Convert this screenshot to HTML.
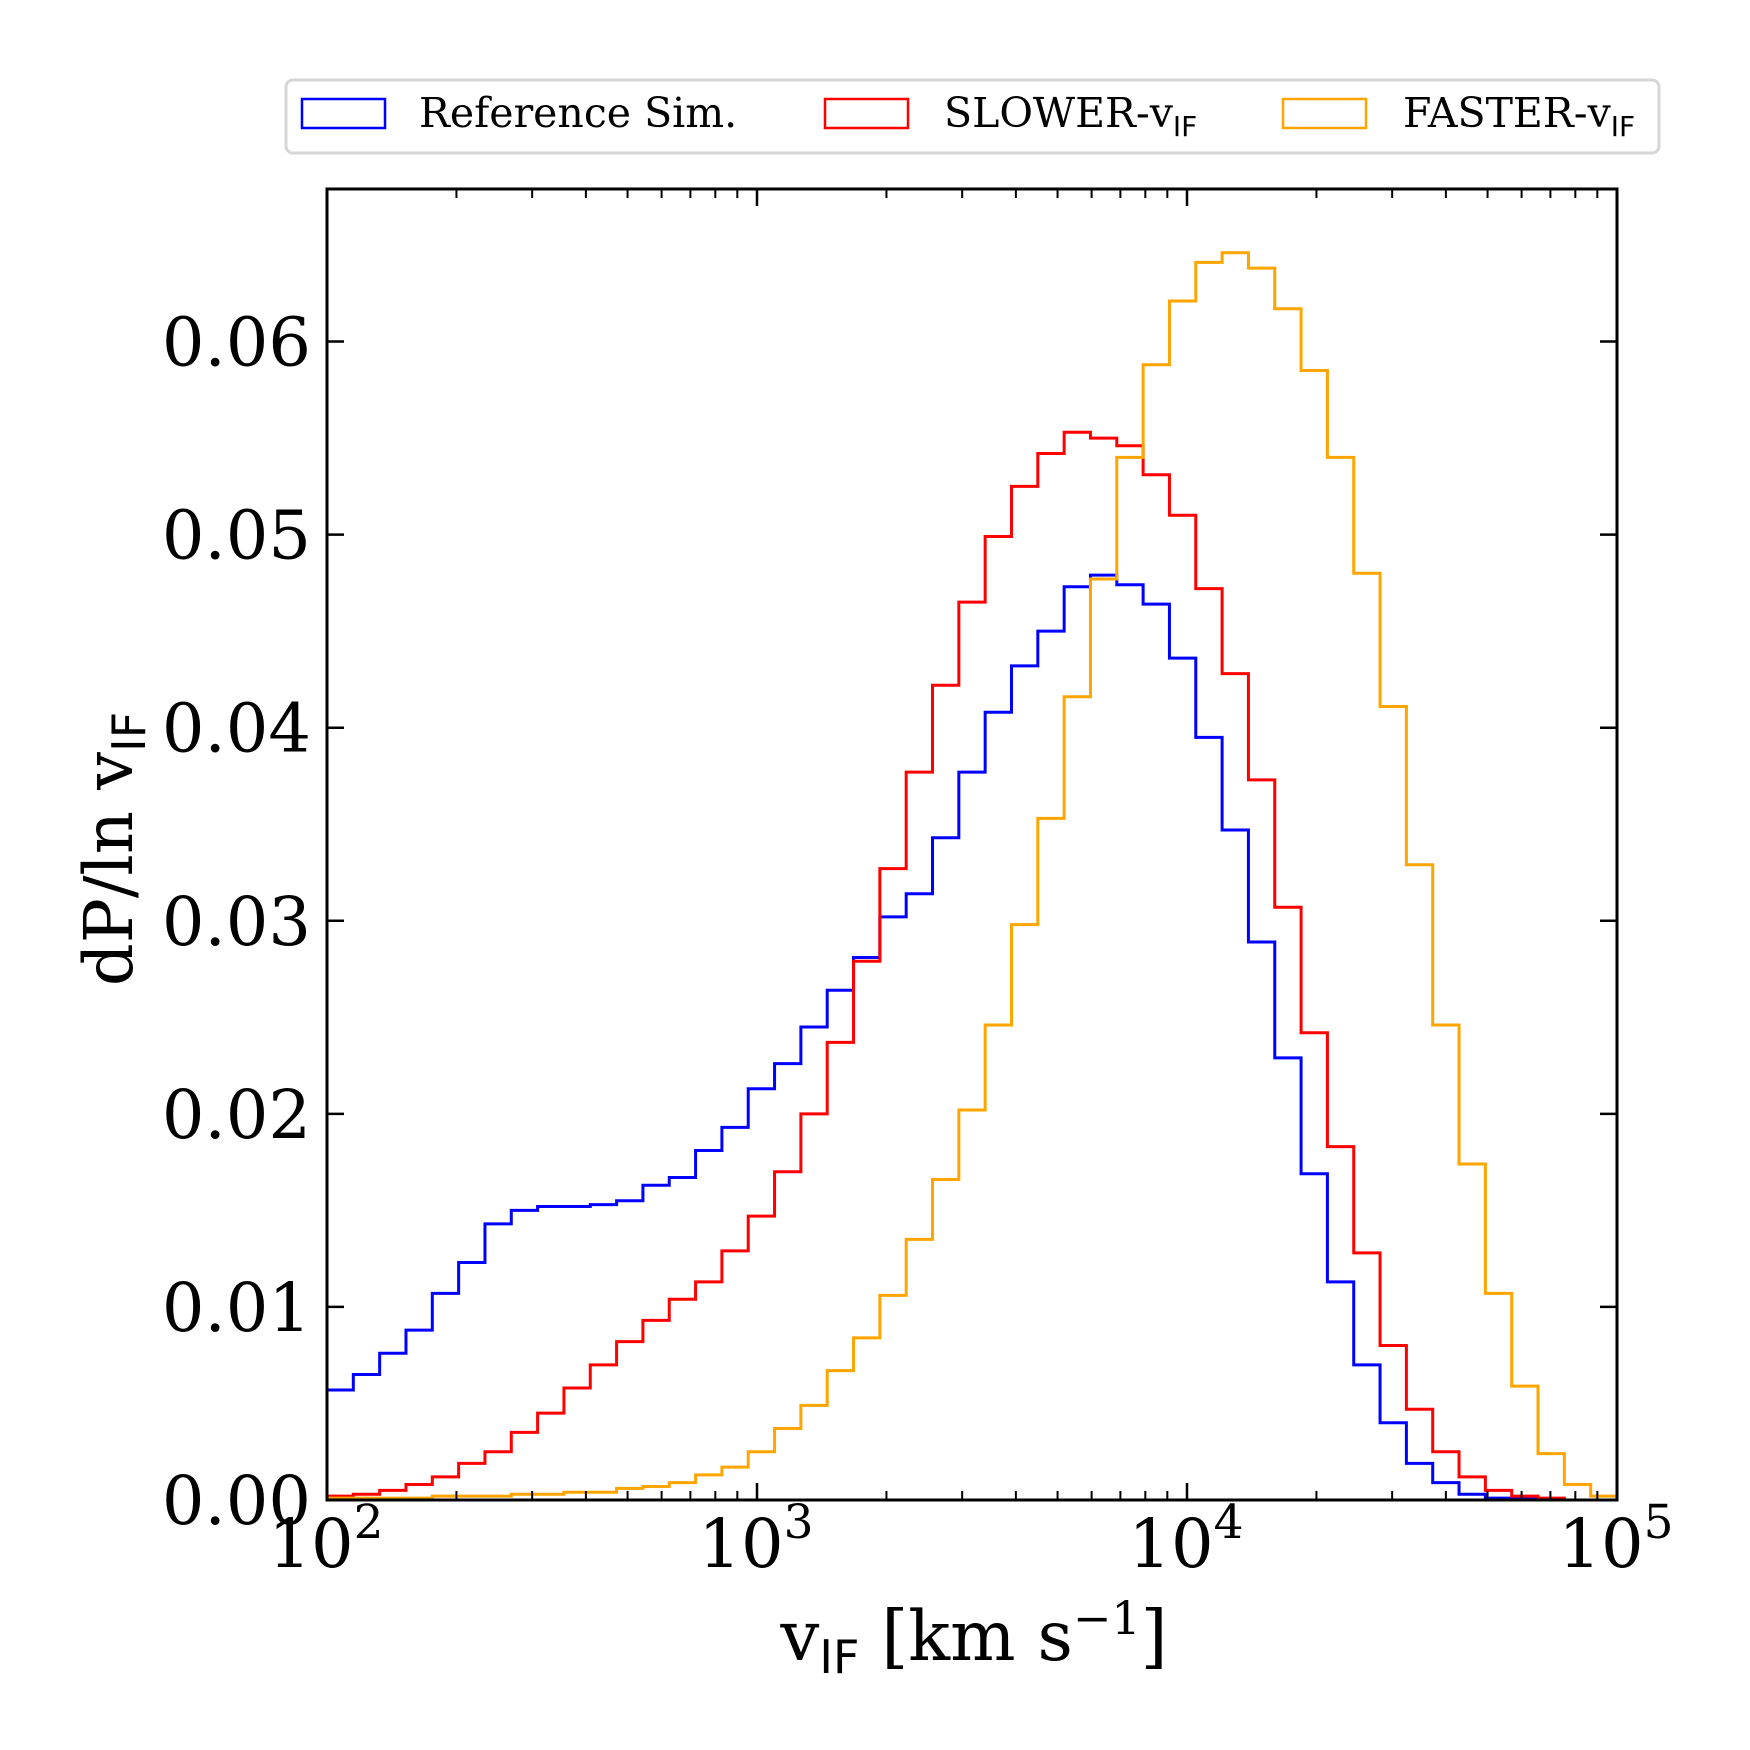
<!DOCTYPE html>
<html><head><meta charset="utf-8"><style>
html,body{margin:0;padding:0;background:#fff;}
svg{display:block;font-family:"DejaVu Serif","Liberation Serif",serif;}
</style></head><body>
<svg id="chart" width="1750" height="1750" viewBox="0 0 1750 1750" xmlns="http://www.w3.org/2000/svg">
<g>
<rect x="286" y="80" width="1373" height="73" rx="7" fill="#fff" stroke="#d6d6d6" stroke-width="3"/>
<g><rect x="302" y="99" width="83" height="29" fill="none" stroke="#0000ff" stroke-width="2.5"/><text x="419" y="127" font-size="41">Reference Sim.</text></g>
<g><rect x="825" y="99" width="83" height="29" fill="none" stroke="#ff0000" stroke-width="2.5"/><text x="944" y="127" font-size="41">SLOWER-v<tspan font-size="28" dy="9" font-family="DejaVu Sans,sans-serif">IF</tspan></text></g>
<g><rect x="1283" y="99" width="83" height="29" fill="none" stroke="#ffa500" stroke-width="2.5"/><text x="1403" y="127" font-size="41">FASTER-v<tspan font-size="28" dy="9" font-family="DejaVu Sans,sans-serif">IF</tspan></text></g>
</g>
<g id="plot"></g>
<text x="974" y="1660" font-size="69" text-anchor="middle">v<tspan font-size="46" dy="13" font-family="DejaVu Sans,sans-serif">IF</tspan><tspan dy="-13"> [km s</tspan><tspan font-size="46" dy="-26">−1</tspan><tspan dy="26">]</tspan></text>
<text transform="translate(132,849) rotate(-90)" font-size="67" text-anchor="middle">dP/ln v<tspan font-size="46" dy="13" font-family="DejaVu Sans,sans-serif">IF</tspan></text>
</svg>
<script>
const binCount = 49;
const xDecades = [2, 3, 4, 5];
const yTicks = [0, 0.01, 0.02, 0.03, 0.04, 0.05, 0.06];
const yTickLabels = ["0.00","0.01","0.02","0.03","0.04","0.05","0.06"];
const referenceSim = [0.0057,0.0065,0.0076,0.0088,0.0107,0.0123,0.0143,0.0150,0.0152,0.0152,0.0153,0.0155,0.0163,0.0167,0.0181,0.0193,0.0213,0.0226,0.0245,0.0264,0.0281,0.0302,0.0314,0.0343,0.0377,0.0408,0.0432,0.0450,0.0473,0.0479,0.0474,0.0464,0.0436,0.0395,0.0347,0.0289,0.0229,0.0169,0.0113,0.0070,0.0040,0.0019,0.0009,0.0003,0.0001,0.00005,0,0,0];
const slowerV = [0.0002,0.0003,0.0005,0.0008,0.0012,0.0019,0.0025,0.0035,0.0045,0.0058,0.0070,0.0082,0.0093,0.0104,0.0113,0.0129,0.0147,0.0170,0.0200,0.0237,0.0279,0.0327,0.0377,0.0422,0.0465,0.0499,0.0525,0.0542,0.0553,0.0550,0.0546,0.0531,0.0510,0.0472,0.0428,0.0373,0.0307,0.0242,0.0183,0.0128,0.0080,0.0047,0.0025,0.0012,0.0005,0.0002,0.0001,0,0];
const fasterV = [0.0001,0.0001,0.0001,0.0001,0.0002,0.0002,0.0002,0.0003,0.0003,0.0004,0.0004,0.0006,0.0007,0.0009,0.0013,0.0017,0.0025,0.0037,0.0049,0.0067,0.0084,0.0106,0.0135,0.0166,0.0202,0.0246,0.0298,0.0353,0.0416,0.0477,0.0540,0.0588,0.0621,0.0641,0.0646,0.0638,0.0617,0.0585,0.0540,0.0480,0.0411,0.0329,0.0246,0.0174,0.0107,0.0059,0.0024,0.0008,0.0002];

const L=327,R=1617,T=189,B=1500,YMAX=0.0679;
const NS="http://www.w3.org/2000/svg";
const g=document.getElementById('plot');
function xs(logv){return L+(logv-2)/3*(R-L);}
function ys(v){return B-v/YMAX*(B-T);}
function mk(tag,attrs,parent){const e=document.createElementNS(NS,tag);for(const k in attrs)e.setAttribute(k,attrs[k]);(parent||g).appendChild(e);return e;}

function series(vals,color,name){
  let d='M'+xs(2)+','+ys(0);
  for(let i=0;i<vals.length;i++){
    const x0=xs(2+3*i/binCount),x1=xs(2+3*(i+1)/binCount),y=ys(vals[i]);
    d+=' L'+x0+','+y+' L'+x1+','+y;
  }
  d+=' L'+xs(5)+','+ys(0);
  const p=mk('path',{d:d,fill:'none',stroke:color,'stroke-width':3});
  
  
}
series(referenceSim,'#0000ff','reference-sim-histogram');
series(slowerV,'#ff0000','slower-v-histogram');
series(fasterV,'#ffa500','faster-v-histogram');

for(let dec=2;dec<5;dec++){
  for(let m=2;m<=9;m++){
    const x=xs(dec+Math.log10(m));
    mk('line',{x1:x,x2:x,y1:B,y2:B-9,stroke:'#000','stroke-width':2});
    mk('line',{x1:x,x2:x,y1:T,y2:T+9,stroke:'#000','stroke-width':2});
  }
}
xDecades.forEach(dec=>{
  const x=xs(dec);
  mk('line',{x1:x,x2:x,y1:B,y2:B-17,stroke:'#000','stroke-width':2.5});
  mk('line',{x1:x,x2:x,y1:T,y2:T+17,stroke:'#000','stroke-width':2.5});
  const t=mk('text',{x:x-1,y:1567,'font-size':67,'text-anchor':'middle'});
  
  
  t.innerHTML='10<tspan font-size="47" dy="-29">'+dec+'</tspan>';
});
yTicks.forEach((v,i)=>{
  const y=ys(v);
  mk('line',{x1:L,x2:L+17,y1:y,y2:y,stroke:'#000','stroke-width':2.5});
  mk('line',{x1:R,x2:R-17,y1:y,y2:y,stroke:'#000','stroke-width':2.5});
  const t=mk('text',{x:311,y:y+24,'font-size':67,'text-anchor':'end'});
  
  
  t.textContent=yTickLabels[i];
});
const fr=mk('rect',{x:L,y:T,width:R-L,height:B-T,fill:'none',stroke:'#000','stroke-width':3});


</script>
</body></html>
